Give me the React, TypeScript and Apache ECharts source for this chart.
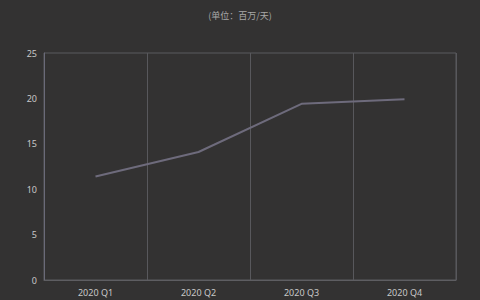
import React, { useEffect, useRef } from "react";
import * as echarts from "echarts";

const categories = ["2020 Q1", "2020 Q2", "2020 Q3", "2020 Q4"];
const values = [11.4, 14.1, 19.4, 19.9];
const yTicks = [0, 5, 10, 15, 20, 25];
const unitTitle = "(单位：百万/天)";

export default function App() {
  const ref = useRef<HTMLDivElement>(null);
  useEffect(() => {
    if (!ref.current) return;
    const chart = echarts.init(ref.current, undefined, { renderer: "svg" });
    chart.setOption({
      animation: false,
      backgroundColor: "#333232",
      title: {
        text: unitTitle,
        left: "center",
        top: 6,
        textStyle: { color: "#a8a8a8", fontSize: 9, fontWeight: "normal", fontFamily: "Noto Sans CJK SC" },
      },
      grid: {
        left: 44,
        right: 24,
        top: 53,
        bottom: 20,
        show: true,
        borderColor: "#5a5a5e",
        borderWidth: 1,
      },
      xAxis: {
        type: "category",
        data: categories,
        boundaryGap: true,
        axisLine: { show: true, lineStyle: { color: "#5e5e62" } },
        axisTick: { show: false },
        axisLabel: { color: "#c8c8c8", fontSize: 9, margin: 8, fontFamily: "Noto Sans" },
        splitLine: { show: true, lineStyle: { color: "#58585c", width: 1 } },
      },
      yAxis: {
        type: "value",
        min: yTicks[0],
        max: yTicks[yTicks.length - 1],
        interval: 5,
        axisLine: { show: true, lineStyle: { color: "#6a6a78" } },
        axisTick: { show: false },
        axisLabel: { color: "#c8c8c8", fontSize: 9, margin: 7, fontFamily: "Noto Sans" },
        splitLine: { show: false },
      },
      series: [
        {
          type: "line",
          data: values,
          symbol: "none",
          lineStyle: { color: "#6e6b7c", width: 2 },
        },
      ],
    });
    return () => chart.dispose();
  }, []);
  return (
    <div
      ref={ref}
      style={{ position: "fixed", left: 0, top: 0, width: 480, height: 300 }}
    />
  );
}
